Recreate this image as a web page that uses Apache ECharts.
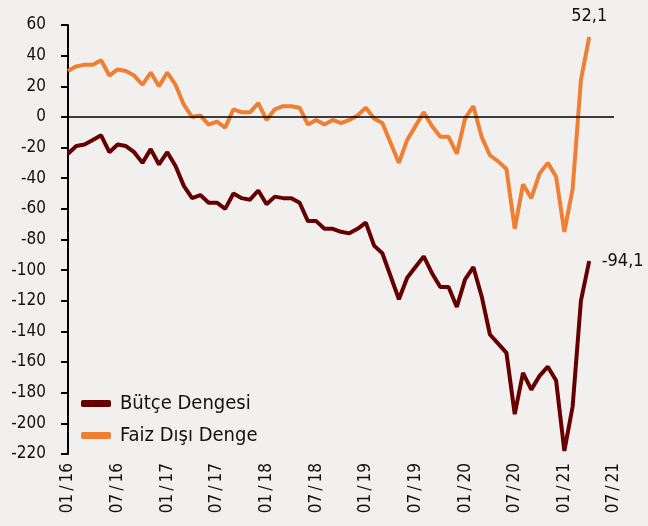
<!DOCTYPE html>
<html>
<head>
<meta charset="utf-8">
<script src="https://cdn.jsdelivr.net/npm/echarts@6/dist/echarts.min.js"></script>
<style>
  html, body { margin: 0; padding: 0; background: #f2f0ef; }
  #chart { width: 648px; height: 526px; }
</style>
</head>
<body>
<div id="chart"></div>
<script>
// months 01/16 .. 07/21 (axis runs to 07/21, data stops at 04/21)
var months = [];
for (var y = 16; y <= 21; y++) {
    for (var m = 1; m <= 12; m++) {
        if (y === 21 && m > 7) break;
        months.push((m < 10 ? "0" + m : "" + m) + "/" + y);
    }
}

var butceDengesi = [
    -24, -19, -18, -15, -12, -23, -18, -19, -23, -30, -21, -31,
    -23, -32, -45, -53, -51, -56, -56, -60, -50, -53, -54, -48,
    -57, -52, -53, -53, -56, -68, -68, -73, -73, -75, -76, -73,
    -69, -84, -89, -104, -119, -105, -98, -91, -102, -111, -111, -124,
    -106, -98, -117, -142, -148, -154, -194, -167, -178, -169, -163, -172,
    -218, -189, -120, -94.1
];
var faizDisiDenge = [
    30, 33, 34, 34, 37, 27, 31, 30, 27, 21, 29, 20,
    29, 21, 8, 0, 1, -5, -3, -7, 5, 3, 3, 9,
    -2, 5, 7, 7, 6, -5, -2, -5, -2, -4, -2, 1,
    6, -1, -4, -17, -30, -15, -6, 3, -6, -13, -13, -24,
    -1, 7, -13, -25, -29, -34, -73, -44, -53, -37, -30, -39,
    -75, -47, 24, 52.1
];

var yMin = -220, yMax = 60, yStep = 20;
var showMonths = ["01", "07"];

var fontName = "'DejaVu Sans Condensed', 'DejaVu Sans', sans-serif";

// only the last point gets a (tiny) symbol so its value label can be drawn
function lastLabel(values, pos) {
    var last = values.length - 1;
    return values.map(function (v, i) {
        if (i !== last) return v;
        return {
            value: v,
            symbol: "circle",
            symbolSize: 1,
            label: {
                show: true,
                position: pos,
                distance: pos === "right" ? 12 : 11,
                color: "#111",
                fontFamily: fontName,
                fontSize: 18,
                formatter: function (p) { return String(p.value).replace(".", ","); }
            }
        };
    });
}

var chart = echarts.init(document.getElementById("chart"));
chart.setOption({
    backgroundColor: "#f2f0ef",
    animation: false,
    grid: { left: 68, right: 34, top: 25, bottom: 72 },
    legend: {
        left: 76,
        top: 388,
        orient: "vertical",
        itemWidth: 30,
        itemHeight: 7,
        itemGap: 11,
        icon: "roundRect",
        textStyle: { fontFamily: fontName, fontSize: 20, lineHeight: 21, color: "#111", padding: [0, 0, 0, 4] },
        data: ["Bütçe Dengesi", "Faiz Dışı Denge"]
    },
    xAxis: {
        type: "category",
        data: months,
        boundaryGap: false,
        axisLine: { show: false },
        axisTick: { show: false },
        axisLabel: {
            rotate: 90,
            interval: function (i, v) { return showMonths.indexOf(v.slice(0, 2)) >= 0; },
            formatter: function (v) { return v.replace("/", "\u2009/\u2009"); },
            margin: 9,
            color: "#111",
            fontFamily: fontName,
            fontSize: 17
        }
    },
    yAxis: {
        type: "value",
        min: yMin,
        max: yMax,
        interval: yStep,
        axisLine: { show: true, lineStyle: { color: "#000", width: 2 } },
        axisTick: { show: true, inside: false, length: 7, lineStyle: { color: "#000", width: 2 } },
        splitLine: { show: false },
        axisLabel: { margin: 22, color: "#111", fontFamily: fontName, fontSize: 17 }
    },
    series: [
        {
            name: "Bütçe Dengesi",
            type: "line",
            data: lastLabel(butceDengesi, "right"),
            symbol: "none",
            showAllSymbol: true,
            lineStyle: { color: "#660000", width: 4 },
            itemStyle: { color: "#660000" },
            markLine: {
                silent: true,
                symbol: "none",
                label: { show: false },
                lineStyle: { color: "#000", width: 1.5, type: "solid" },
                data: [{ yAxis: 0 }]
            }
        },
        {
            name: "Faiz Dışı Denge",
            type: "line",
            data: lastLabel(faizDisiDenge, "top"),
            symbol: "none",
            showAllSymbol: true,
            lineStyle: { color: "#ef7f32", width: 4 },
            itemStyle: { color: "#ef7f32" }
        }
    ]
});
</script>
</body>
</html>
